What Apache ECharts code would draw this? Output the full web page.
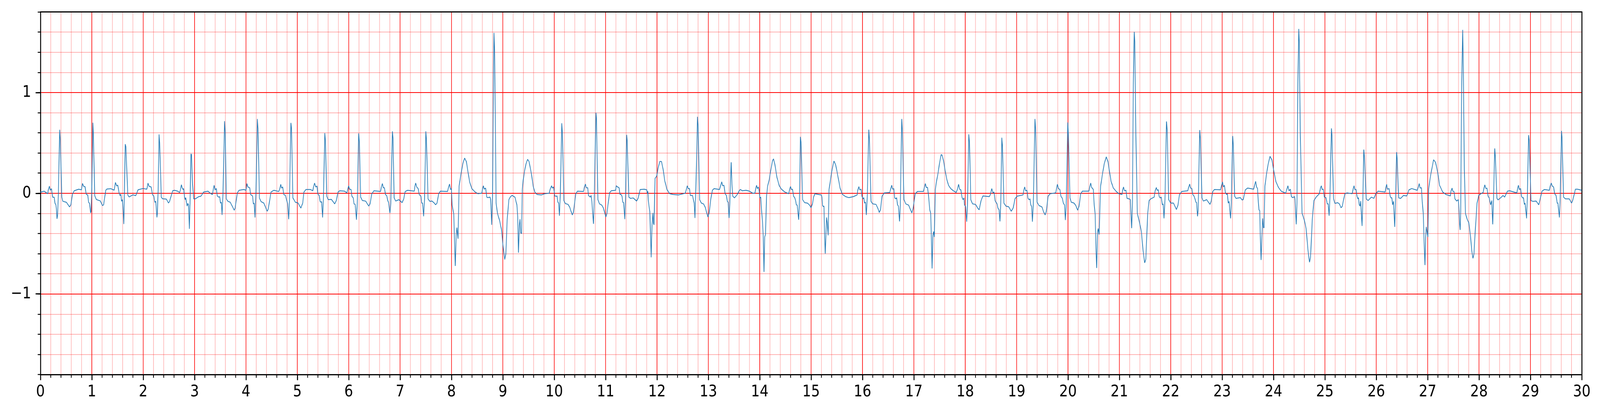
<!DOCTYPE html>
<html>
<head>
<meta charset="utf-8">
<script src="https://cdn.jsdelivr.net/npm/echarts@6/dist/echarts.min.js"></script>
<style>html,body{margin:0;padding:0;background:#fff;overflow:hidden;width:100%;height:100%}#c{width:4827px;height:1055px;transform-origin:0 0;position:absolute;left:0;top:0}</style>
</head>
<body>
<div id="c"></div>
<script>
// ECG trace: [time (s), value]
const ecg0to5 = [[0,0.01],[0.073,0.02],[0.143,-0.005],[0.151,0.03],[0.175,0.07],[0.192,0.03],[0.216,0.045],[0.238,-0.04],[0.268,-0.04],[0.283,-0.10],[0.30,-0.115],[0.311,-0.155],[0.322,-0.254],[0.333,-0.22],[0.35,0.0],[0.374,0.63],[0.387,0.53],[0.415,-0.04],[0.436,-0.08],[0.505,-0.09],[0.566,-0.136],[0.592,-0.115],[0.624,-0.01],[0.657,0.024],[0.743,0.04],[0.797,0.034],[0.819,0.097],[0.84,0.068],[0.868,0.065],[0.89,-0.01],[0.92,-0.018],[0.937,-0.09],[0.955,-0.10],[0.976,-0.196],[0.985,-0.18],[0.998,0.0],[1.02,0.70],[1.03,0.60],[1.056,-0.024],[1.089,-0.063],[1.164,-0.076],[1.207,-0.123],[1.229,-0.115],[1.272,0.03],[1.294,0.042],[1.37,0.045],[1.434,0.03],[1.46,0.107],[1.482,0.073],[1.505,0.08],[1.53,0.003],[1.549,-0.024],[1.564,-0.01],[1.579,-0.08],[1.596,-0.063],[1.611,-0.18],[1.622,-0.306],[1.629,-0.18],[1.65,0.487],[1.663,0.46],[1.70,-0.018],[1.726,-0.037],[1.80,-0.016],[1.855,-0.024],[1.90,0.034],[1.996,0.047],[2.07,0.04],[2.093,0.10],[2.115,0.068],[2.153,0.063],[2.18,-0.013],[2.207,-0.03],[2.227,-0.09],[2.244,-0.08],[2.259,-0.19],[2.268,-0.24],[2.276,-0.2],[2.29,0.03],[2.309,0.584],[2.32,0.50],[2.352,-0.037],[2.374,-0.055],[2.45,-0.058],[2.492,-0.097],[2.514,-0.08],
[2.542,-0.03],[2.574,0.024],[2.607,0.029],[2.671,0.02],[2.71,0.007],[2.725,0.037],[2.744,0.084],[2.757,0.054],[2.774,0.037],[2.787,0.046],[2.804,-0.039],[2.817,-0.064],[2.828,-0.044],[2.843,-0.098],[2.856,-0.128],[2.869,-0.101],[2.882,-0.115],[2.899,-0.354],[2.912,-0.098],[2.929,0.391],[2.94,0.383],[2.961,0.088],[2.983,-0.056],[3.015,-0.056],[3.08,-0.034],[3.123,-0.03],[3.176,0.012],[3.262,0.02],[3.316,-0.005],[3.348,-0.013],[3.363,0.037],[3.381,0.079],[3.398,0.034],[3.424,0.046],[3.441,-0.027],[3.467,-0.039],[3.488,-0.034],[3.505,-0.098],[3.52,-0.089],[3.535,-0.216],[3.553,-0.013],[3.583,0.715],[3.596,0.61],[3.617,-0.056],[3.65,-0.081],[3.693,-0.089],[3.736,-0.132],[3.772,-0.169],[3.789,-0.148],[3.832,0.003],[3.865,0.029],[3.961,0.037],[4.0,0.029],[4.019,0.096],[4.037,0.062],[4.073,0.054],[4.09,-0.013],[4.116,-0.022],[4.129,-0.03],[4.144,-0.106],[4.159,-0.098],[4.176,-0.241],[4.194,-0.013],[4.222,0.737],[4.234,0.644],[4.262,-0.047],[4.295,-0.084],[4.348,-0.098],[4.413,-0.179],[4.434,-0.157],[4.488,0.012],[4.542,0.029],[4.639,0.017],[4.66,0.046],[4.677,0.088],[4.693,0.051],[4.714,0.062],[4.736,-0.013],[4.768,-0.022],[4.79,-0.064],[4.811,-0.106],[4.832,-0.258],[4.847,-0.064],[4.875,0.698],[4.886,0.644],[4.914,-0.047],[4.961,-0.089],[5.015,-0.098],[5.069,-0.148]];

const ecg5to10 = [[5.104,-0.098],[5.129,0.012],[5.168,0.037],[5.254,0.037],[5.301,0.024],[5.314,0.062],[5.336,0.101],[5.357,0.062],[5.383,0.071],[5.4,-0.01],[5.426,-0.022],[5.443,-0.081],[5.458,-0.089],[5.473,-0.084],[5.491,-0.241],[5.508,-0.064],[5.534,0.597],[5.547,0.526],[5.572,-0.03],[5.602,-0.064],[5.663,-0.061],[5.727,-0.106],[5.759,-0.073],[5.792,0.012],[5.824,0.024],[5.921,0.02],[5.964,0.003],[5.977,0.029],[5.998,0.074],[6.017,0.04],[6.045,0.037],[6.063,-0.03],[6.088,-0.047],[6.104,-0.106],[6.125,-0.111],[6.151,-0.263],[6.166,-0.098],[6.194,0.594],[6.207,0.509],[6.233,-0.039],[6.265,-0.073],[6.329,-0.078],[6.39,-0.128],[6.415,-0.106],[6.45,-0.005],[6.49,0.024],[6.62,0.017],[6.635,0.062],[6.656,0.096],[6.673,0.054],[6.695,0.054],[6.716,-0.013],[6.742,-0.027],[6.759,-0.073],[6.777,-0.094],[6.802,-0.196],[6.82,-0.098],[6.85,0.614],[6.863,0.543],[6.884,-0.047],[6.914,-0.078],[6.975,-0.064],[7.007,-0.078],[7.039,-0.094],[7.071,-0.056],[7.099,0.017],[7.147,0.029],[7.276,0.02],[7.286,0.062],[7.303,0.101],[7.323,0.062],[7.351,0.046],[7.372,-0.013],[7.405,-0.03],[7.422,-0.098],[7.437,-0.098],[7.458,-0.229],[7.476,-0.064],[7.501,0.614],[7.512,0.543],[7.544,-0.056],
[7.579,-0.081],[7.622,-0.078],[7.665,-0.098],[7.691,-0.115],[7.719,-0.098],[7.751,-0.005],[7.783,0.02],[7.923,0.017],[7.945,0.062],[7.962,0.091],[7.983,0.037],[7.998,0.046],[8.013,-0.115],[8.044,-0.207],[8.074,-0.722],[8.091,-0.418],[8.106,-0.342],[8.127,-0.452],[8.149,0.071],[8.181,0.18],[8.22,0.29],[8.256,0.349],[8.289,0.315],[8.353,0.113],[8.396,0.046],[8.46,0.012],[8.514,-0.005],[8.59,0.0],[8.605,0.046],[8.622,0.074],[8.637,0.04],[8.665,0.051],[8.687,-0.039],[8.708,-0.044],[8.751,-0.039],[8.762,-0.064],[8.783,-0.314],[8.8,-0.013],[8.818,1.251],[8.828,1.592],[8.839,1.42],[8.856,0.577],[8.869,-0.098],[8.895,-0.199],[8.934,-0.266],[8.973,-0.359],[9.003,-0.519],[9.037,-0.658],[9.058,-0.604],[9.084,-0.266],[9.117,-0.064],[9.149,-0.034],[9.181,-0.022],[9.235,-0.039],[9.273,-0.115],[9.289,-0.233],[9.304,-0.59],[9.321,-0.317],[9.334,-0.258],[9.347,-0.393],[9.364,-0.401],[9.379,0.037],[9.396,0.13],[9.424,0.223],[9.45,0.29],[9.482,0.336],[9.51,0.315],[9.557,0.189],[9.59,0.071],[9.622,0.012],[9.665,-0.013],[9.751,-0.017],[9.816,-0.005],[9.902,0.0],[9.919,0.037],[9.949,0.074],[9.962,0.051],[9.988,0.062],[10.009,-0.027],[10.041,-0.03]];

const ecg10to15 = [[10.055,-0.027],[10.072,-0.089],[10.085,-0.098],[10.102,-0.224],[10.119,0.003],[10.147,0.695],[10.158,0.61],[10.188,-0.073],[10.216,-0.103],[10.27,-0.111],[10.302,-0.14],[10.351,-0.216],[10.373,-0.191],[10.42,-0.005],[10.452,0.02],[10.571,0.017],[10.588,0.062],[10.607,0.091],[10.624,0.054],[10.652,0.054],[10.667,-0.022],[10.7,-0.039],[10.717,-0.022],[10.732,-0.081],[10.747,-0.182],[10.764,-0.304],[10.781,-0.013],[10.812,0.799],[10.822,0.745],[10.85,-0.064],[10.882,-0.106],[10.925,-0.118],[10.958,-0.148],[11.005,-0.236],[11.026,-0.199],[11.076,0.003],[11.108,0.024],[11.194,0.029],[11.207,0.074],[11.233,0.062],[11.263,0.054],[11.28,-0.013],[11.302,-0.013],[11.319,-0.03],[11.334,-0.089],[11.351,-0.094],[11.373,-0.258],[11.388,-0.064],[11.409,0.58],[11.42,0.526],[11.452,-0.039],[11.485,-0.051],[11.538,-0.047],[11.603,-0.078],[11.635,-0.047],[11.672,0.037],[11.753,0.04],[11.801,0.034],[11.814,-0.005],[11.822,0.02],[11.831,-0.073],[11.846,-0.132],[11.861,-0.182],[11.874,-0.418],[11.887,-0.637],[11.904,-0.317],[11.921,-0.196],[11.932,-0.3],[11.943,-0.314],[11.962,0.147],[11.994,0.169],[12.022,0.248],[12.054,0.315],[12.087,0.315],[12.119,0.239],[12.151,0.125],[12.194,0.037],[12.248,-0.005],[12.312,-0.013],[12.42,-0.017],[12.549,0.0],
[12.573,0.04],[12.59,0.074],[12.607,0.046],[12.633,0.046],[12.648,-0.022],[12.691,-0.022],[12.706,-0.056],[12.724,-0.098],[12.739,-0.246],[12.754,-0.013],[12.771,0.341],[12.788,0.759],[12.799,0.678],[12.831,-0.064],[12.863,-0.098],[12.906,-0.106],[12.939,-0.14],[12.971,-0.199],[12.992,-0.236],[13.014,-0.199],[13.046,-0.064],[13.078,0.029],[13.111,0.046],[13.218,0.037],[13.24,0.079],[13.261,0.113],[13.278,0.074],[13.304,0.079],[13.326,-0.005],[13.351,-0.022],[13.369,-0.081],[13.386,-0.089],[13.403,-0.246],[13.418,-0.098],[13.444,0.307],[13.459,0.088],[13.476,-0.03],[13.508,-0.047],[13.562,-0.013],[13.605,0.029],[13.627,0.037],[13.659,0.024],[13.734,0.029],[13.799,0.02],[13.863,0.0],[13.906,0.0],[13.924,0.054],[13.939,0.078],[13.954,0.046],[13.975,0.062],[13.988,0.029],[14.003,-0.047],[14.02,-0.039],[14.035,-0.165],[14.053,-0.283],[14.068,-0.418],[14.083,-0.781],[14.096,-0.435],[14.113,-0.41],[14.132,-0.03],[14.154,0.071],[14.186,0.138],[14.218,0.239],[14.25,0.324],[14.268,0.341],[14.293,0.29],[14.336,0.155],[14.38,0.074],[14.422,0.04],[14.487,0.012],[14.562,-0.005],[14.584,0.04],[14.599,0.067],[14.616,0.037],[14.637,0.04],[14.659,-0.03],[14.68,-0.044],[14.698,-0.073],[14.713,-0.115],[14.728,-0.118],[14.745,-0.199],[14.758,-0.263],[14.771,-0.098],[14.792,0.56],[14.803,0.509],[14.835,-0.064],[14.874,-0.094],[14.928,-0.098],[14.971,-0.118],[14.999,-0.145]];

const ecg15to20 = [[15.026,-0.106],[15.048,-0.039],[15.073,-0.005],[15.112,-0.01],[15.198,-0.017],[15.211,-0.039],[15.224,-0.123],[15.237,-0.132],[15.25,-0.128],[15.263,-0.418],[15.275,-0.6],[15.288,-0.418],[15.301,-0.241],[15.314,-0.292],[15.331,-0.418],[15.349,0.037],[15.381,0.147],[15.409,0.239],[15.445,0.319],[15.478,0.282],[15.52,0.172],[15.564,0.051],[15.607,-0.01],[15.671,-0.034],[15.736,-0.044],[15.822,-0.034],[15.897,-0.017],[15.908,0.029],[15.929,0.066],[15.946,0.034],[15.972,0.04],[15.989,-0.03],[16.011,-0.056],[16.026,-0.044],[16.041,-0.098],[16.058,-0.089],[16.075,-0.216],[16.093,-0.03],[16.123,0.631],[16.134,0.543],[16.166,-0.081],[16.198,-0.106],[16.263,-0.111],[16.295,-0.145],[16.327,-0.191],[16.349,-0.165],[16.381,-0.03],[16.424,0.003],[16.531,0.007],[16.548,0.04],[16.568,0.079],[16.587,0.04],[16.609,0.046],[16.628,-0.047],[16.65,-0.056],[16.665,-0.044],[16.682,-0.115],[16.699,-0.128],[16.721,-0.28],[16.736,-0.115],[16.764,0.737],[16.774,0.644],[16.807,-0.064],[16.843,-0.106],[16.897,-0.118],[16.929,-0.157],[16.961,-0.196],[16.983,-0.157],[17.026,-0.005],[17.069,0.017],[17.187,0.017],[17.202,0.054],[17.224,0.096],[17.241,0.057],[17.267,0.057],[17.284,-0.022],[17.31,-0.165],[17.327,-0.199],[17.34,-0.435],[17.355,-0.747],[17.37,-0.418],[17.385,-0.381],[17.398,-0.435],[17.417,0.037],[17.445,0.13],[17.473,0.206],[17.499,0.298],[17.531,0.383],
[17.549,0.378],[17.577,0.324],[17.609,0.223],[17.641,0.138],[17.674,0.079],[17.717,0.046],[17.77,0.024],[17.824,0.007],[17.846,0.037],[17.871,0.088],[17.889,0.04],[17.914,0.034],[17.936,-0.039],[17.957,-0.064],[17.975,-0.047],[17.985,-0.115],[18.007,-0.132],[18.028,-0.283],[18.043,-0.132],[18.069,0.585],[18.082,0.509],[18.108,-0.064],[18.142,-0.106],[18.2,-0.111],[18.243,-0.148],[18.271,-0.165],[18.308,-0.073],[18.344,-0.027],[18.469,-0.034],[18.491,-0.01],[18.516,0.046],[18.538,0.003],[18.559,0.012],[18.581,-0.073],[18.603,-0.094],[18.62,-0.106],[18.637,-0.148],[18.658,-0.165],[18.676,-0.28],[18.691,-0.098],[18.712,0.551],[18.723,0.476],[18.753,-0.098],[18.792,-0.128],[18.846,-0.135],[18.895,-0.179],[18.932,-0.148],[18.968,-0.056],[19.007,-0.03],[19.125,-0.017],[19.14,0.029],[19.157,0.062],[19.175,0.024],[19.2,0.029],[19.222,-0.051],[19.243,-0.064],[19.261,-0.056],[19.276,-0.115],[19.291,-0.132],[19.308,-0.283],[19.325,-0.098],[19.357,0.737],[19.368,0.644],[19.398,-0.089],[19.437,-0.123],[19.491,-0.135],[19.523,-0.182],[19.555,-0.216],[19.577,-0.182],[19.613,-0.03],[19.652,-0.005],[19.76,0.003],[19.777,0.046],[19.794,0.088],[19.813,0.046],[19.841,0.037],[19.863,-0.03],[19.889,-0.051],[19.9,-0.044],[19.91,-0.098],[19.932,-0.118],[19.949,-0.266],[19.964,-0.132],[19.996,0.703],[20.007,0.577],[20.039,-0.047]];

const ecg20to25 = [[20.063,-0.089],[20.117,-0.098],[20.153,-0.123],[20.188,-0.169],[20.214,-0.132],[20.246,-0.01],[20.278,0.02],[20.407,0.02],[20.424,0.062],[20.441,0.101],[20.461,0.057],[20.493,0.037],[20.51,-0.115],[20.528,-0.207],[20.545,-0.553],[20.558,-0.742],[20.575,-0.384],[20.588,-0.351],[20.605,-0.41],[20.635,0.071],[20.665,0.172],[20.704,0.29],[20.745,0.361],[20.777,0.315],[20.837,0.121],[20.88,0.054],[20.934,0.02],[20.988,-0.005],[21.052,-0.013],[21.063,0.029],[21.08,0.062],[21.1,0.024],[21.128,0.029],[21.149,-0.051],[21.192,-0.056],[21.214,-0.064],[21.224,-0.182],[21.239,-0.347],[21.254,-0.098],[21.272,1.083],[21.289,1.602],[21.3,1.504],[21.321,0.577],[21.349,-0.199],[21.396,-0.3],[21.429,-0.384],[21.461,-0.57],[21.493,-0.691],[21.515,-0.654],[21.551,-0.199],[21.579,-0.073],[21.611,-0.056],[21.676,-0.039],[21.697,0.024],[21.719,0.057],[21.736,0.029],[21.757,0.034],[21.773,-0.03],[21.794,-0.047],[21.816,-0.039],[21.837,-0.115],[21.852,-0.106],[21.869,-0.25],[21.887,-0.064],[21.917,0.712],[21.93,0.627],[21.96,-0.064],[21.998,-0.098],[22.052,-0.098],[22.084,-0.132],[22.11,-0.162],[22.138,-0.123],[22.171,-0.013],[22.214,0.017],[22.332,0.024],[22.347,0.057],[22.368,0.091],[22.386,0.051],[22.411,0.046],[22.429,-0.013],[22.454,-0.03],[22.472,-0.056],[22.489,-0.089],[22.504,-0.094],[22.521,-0.229],
[22.534,-0.165],[22.564,0.627],[22.577,0.543],[22.607,-0.047],[22.635,-0.078],[22.7,-0.064],[22.732,-0.089],[22.764,-0.111],[22.786,-0.081],[22.818,0.017],[22.85,0.037],[22.969,0.034],[22.986,0.071],[23.007,0.113],[23.025,0.062],[23.044,0.079],[23.065,0.003],[23.087,-0.013],[23.102,-0.005],[23.119,-0.098],[23.136,-0.081],[23.149,-0.165],[23.164,-0.25],[23.179,-0.098],[23.205,0.568],[23.218,0.476],[23.244,-0.03],[23.27,-0.051],[23.356,-0.044],[23.388,-0.067],[23.41,-0.064],[23.452,0.034],[23.496,0.051],[23.614,0.04],[23.631,0.079],[23.653,0.118],[23.67,0.062],[23.689,0.046],[23.704,-0.081],[23.717,-0.165],[23.732,-0.174],[23.743,-0.418],[23.758,-0.663],[23.773,-0.435],[23.79,-0.25],[23.803,-0.342],[23.816,-0.342],[23.833,0.071],[23.861,0.18],[23.893,0.282],[23.932,0.366],[23.968,0.332],[24.011,0.206],[24.048,0.113],[24.097,0.057],[24.151,0.02],[24.237,0.0],[24.254,0.029],[24.28,0.074],[24.302,0.024],[24.328,0.04],[24.349,-0.034],[24.371,-0.044],[24.41,-0.034],[24.42,-0.064],[24.442,-0.309],[24.457,-0.098],[24.474,1.083],[24.491,1.631],[24.502,1.504],[24.521,0.577],[24.556,-0.199],[24.599,-0.266],[24.635,-0.351],[24.668,-0.553],[24.7,-0.685],[24.721,-0.637],[24.754,-0.266],[24.786,-0.073],[24.829,-0.039],[24.893,-0.005],[24.915,0.054],[24.932,0.074],[24.947,0.037],[24.969,0.04],[24.99,-0.039],[25.022,-0.044]];

const ecg25to30 = [[25.045,-0.106],[25.065,-0.106],[25.082,-0.224],[25.099,-0.03],[25.127,0.644],[25.138,0.577],[25.168,-0.056],[25.196,-0.101],[25.25,-0.094],[25.282,-0.106],[25.314,-0.145],[25.336,-0.132],[25.389,-0.005],[25.432,0.003],[25.533,-0.005],[25.551,0.046],[25.568,0.074],[25.583,0.037],[25.607,0.037],[25.626,-0.03],[25.641,-0.056],[25.654,-0.044],[25.669,-0.115],[25.684,-0.128],[25.697,-0.078],[25.723,-0.325],[25.74,-0.064],[25.757,0.433],[25.77,0.358],[25.804,-0.056],[25.841,-0.073],[25.905,-0.039],[25.955,-0.051],[25.991,-0.005],[26.035,0.02],[26.174,0.012],[26.185,0.054],[26.202,0.088],[26.217,0.04],[26.25,0.046],[26.271,-0.03],[26.286,-0.047],[26.303,-0.044],[26.318,-0.115],[26.336,-0.081],[26.359,-0.334],[26.376,-0.064],[26.396,0.408],[26.406,0.349],[26.437,-0.047],[26.475,-0.051],[26.529,-0.022],[26.594,-0.027],[26.637,0.034],[26.69,0.046],[26.798,0.029],[26.819,0.062],[26.836,0.096],[26.854,0.051],[26.879,0.054],[26.895,-0.081],[26.914,-0.199],[26.931,-0.486],[26.948,-0.713],[26.961,-0.435],[26.974,-0.334],[26.991,-0.393],[27.004,-0.435],[27.019,0.037],[27.045,0.138],[27.077,0.231],[27.116,0.332],[27.153,0.307],[27.196,0.206],[27.232,0.079],[27.293,0.012],[27.357,-0.013],[27.443,-0.027],[27.454,0.02],[27.475,0.051],[27.49,0.02],[27.512,0.017],
[27.532,-0.056],[27.564,-0.078],[27.596,-0.064],[27.613,-0.182],[27.622,-0.3],[27.633,-0.364],[27.643,-0.182],[27.661,0.998],[27.682,1.622],[27.695,1.251],[27.714,0.239],[27.736,-0.199],[27.768,-0.258],[27.8,-0.292],[27.833,-0.418],[27.858,-0.57],[27.882,-0.646],[27.901,-0.604],[27.929,-0.351],[27.962,-0.098],[27.994,-0.022],[28.037,-0.005],[28.08,0.007],[28.095,0.046],[28.112,0.083],[28.134,0.046],[28.155,0.051],[28.177,-0.03],[28.198,-0.047],[28.226,-0.115],[28.248,-0.073],[28.267,-0.309],[28.284,-0.013],[28.306,0.445],[28.316,0.374],[28.349,-0.051],[28.37,-0.067],[28.435,-0.039],[28.467,-0.022],[28.499,-0.039],[28.553,0.02],[28.596,0.024],[28.736,0.003],[28.753,0.054],[28.768,0.079],[28.783,0.037],[28.811,0.046],[28.826,-0.03],[28.848,-0.047],[28.865,-0.044],[28.882,-0.111],[28.897,-0.098],[28.925,-0.25],[28.94,-0.064],[28.964,0.577],[28.977,0.526],[29.011,-0.073],[29.048,-0.081],[29.112,-0.078],[29.162,-0.115],[29.187,-0.064],[29.226,0.02],[29.273,0.037],[29.37,0.029],[29.385,0.071],[29.407,0.101],[29.424,0.071],[29.452,0.062],[29.471,-0.005],[29.499,-0.022],[29.521,-0.098],[29.536,-0.098],[29.564,-0.241],[29.579,-0.081],[29.605,0.619],[29.615,0.56],[29.645,-0.039],[29.682,-0.056],[29.757,-0.056],[29.801,-0.098],[29.828,-0.064],[29.876,0.04],[29.918,0.04],[30.0,0.029]];

// axis settings
const xRange = [0, 30];
const yRange = [-1.8, 1.8];
const yMajorTicks = [-1, 0, 1];

const ecg = [].concat(ecg0to5, ecg5to10, ecg10to15, ecg15to20, ecg20to25, ecg25to30);

const MAJOR = '#ff0000';
const MINOR = 'rgba(255,0,0,0.3)';
const FONT = 'DejaVu Sans';
const fmt = v => (v < 0 ? '\u2212' + Math.abs(v) : String(v));

// Render at the reference size, then fit the drawing to the actual viewport.
const el = document.getElementById('c');
const vw = window.innerWidth || document.documentElement.clientWidth || 4827;
const vh = window.innerHeight || document.documentElement.clientHeight || 1055;
el.style.transform = 'scale(' + (vw / 4827) + ',' + (vh / 1055) + ')';

const chart = echarts.init(el, null, {renderer: 'canvas', width: 4827, height: 1055});
chart.setOption({
  animation: false,
  backgroundColor: '#ffffff',
  grid: {left: 122, right: 55, top: 30.5, bottom: 96, containLabel: false},
  xAxis: [
    {
      type: 'value', min: xRange[0], max: xRange[1], interval: 1, position: 'bottom',
      axisLine: {show: true, onZero: false, lineStyle: {color: '#000', width: 3}},
      axisTick: {show: true, inside: false, length: 14.6, lineStyle: {color: '#000', width: 3}},
      minorTick: {show: true, splitNumber: 5, length: 8.3, lineStyle: {color: '#000', width: 2.4}},
      axisLabel: {show: true, margin: 24, fontSize: 41.7, color: '#000', fontFamily: FONT, showMinLabel: true, showMaxLabel: true, formatter: fmt},
      splitLine: {show: true, lineStyle: {color: MAJOR, width: 1.8}},
      minorSplitLine: {show: true, lineStyle: {color: MINOR, width: 1.8}}
    },
    {
      type: 'value', min: xRange[0], max: xRange[1], position: 'top',
      axisLine: {show: true, onZero: false, lineStyle: {color: '#000', width: 3}},
      axisTick: {show: false}, axisLabel: {show: false}, splitLine: {show: false}
    }
  ],
  yAxis: [
    {
      type: 'value', min: yRange[0], max: yRange[1], interval: 0.2, position: 'left',
      axisLine: {show: true, onZero: false, lineStyle: {color: '#000', width: 3}},
      axisTick: {show: true, inside: false, length: 8.3, lineStyle: {color: '#000', width: 2.4}},
      axisLabel: {show: false},
      splitLine: {show: true, lineStyle: {color: [MINOR, MINOR, MINOR, MINOR, MAJOR], width: 1.8}}
    },
    {
      type: 'value', min: yRange[0], max: yRange[1], position: 'left',
      axisLine: {show: false, onZero: false},
      axisTick: {show: true, inside: false, length: 14.6, customValues: yMajorTicks, lineStyle: {color: '#000', width: 3}},
      axisLabel: {show: true, margin: 28, fontSize: 41.7, color: '#000', fontFamily: FONT, customValues: yMajorTicks, formatter: fmt},
      splitLine: {show: false}
    },
    {
      type: 'value', min: yRange[0], max: yRange[1], position: 'right',
      axisLine: {show: true, onZero: false, lineStyle: {color: '#000', width: 3}},
      axisTick: {show: false}, axisLabel: {show: false}, splitLine: {show: false}
    }
  ],
  series: [{
    type: 'line', xAxisIndex: 0, yAxisIndex: 0, data: ecg,
    showSymbol: false, symbol: 'none', smooth: false, z: 5,
    lineStyle: {color: '#1f77b4', width: 2},
    silent: true
  }]
});
</script>
</body>
</html>
